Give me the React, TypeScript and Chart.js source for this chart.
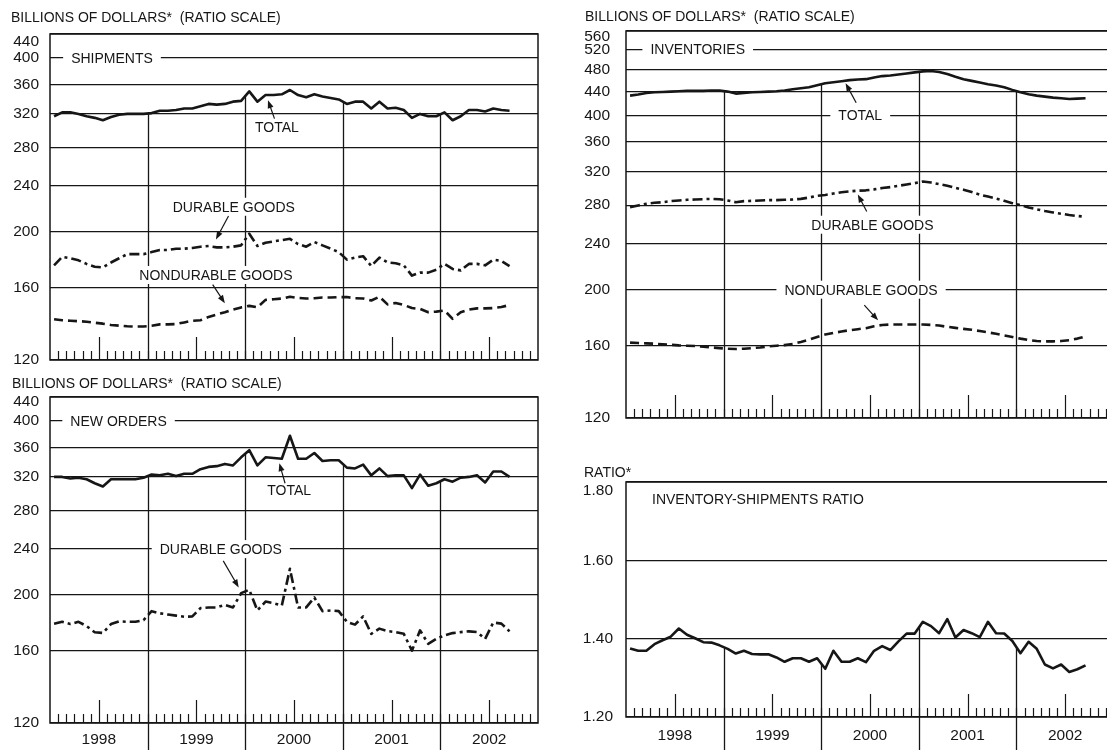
import React, { useEffect, useRef } from "react";
import { Chart, registerables } from "chart.js";

Chart.register(...registerables);

// ---------------- data ----------------
const YEAR_LABELS = ["1998", "1999", "2000", "2001", "2002"];
const YEAR_LABEL_MONTHS = [6, 18, 30, 42, 54]; // mid-year positions (months since Jan 1998)
const YEAR_BOUNDARY_MONTHS = [12, 24, 36, 48];
const X_MIN = 0;
const X_MAX = 60;

const DOLLAR_TICKS = [120, 160, 200, 240, 280, 320, 360, 400, 440];
const INVENTORY_TICKS = [120, 160, 200, 240, 280, 320, 360, 400, 440, 480, 520, 560];
const RATIO_TICKS = [1.2, 1.4, 1.6, 1.8];

// monthly, Jan 1998 - Sep 2002
const shipmentsTotal = [
  317, 322, 322, 320, 317, 315, 312, 316, 319, 320, 320, 320,
  321, 324, 324, 325, 327, 327, 330, 333, 332, 333, 336, 337,
  350, 336, 345, 345, 346, 352, 345, 342, 346, 343, 341, 339,
  333, 336, 336, 327, 336, 327, 328, 325, 315, 320, 317, 317,
  322, 312, 317, 325, 325, 323, 327, 325, 324,
];
const shipmentsDurable = [
  175, 181, 180, 178.5, 176, 174, 173.5, 177, 180, 183, 183, 183,
  184.5, 186, 186, 187, 187, 187.5, 188.5, 189, 188, 188, 188.5, 189.5,
  198.5, 189, 191.5, 192.5, 193.5, 194.5, 190.5, 188.5, 192, 189.5, 187, 184.5,
  179, 180.5, 181.5, 174.5, 180.5, 177, 176.5, 175, 168, 170, 170, 172,
  176, 172.5, 171.5, 176, 176, 175, 179, 178, 174.5,
];
const shipmentsNondurable = [
  141.2, 140.6, 140.3, 140.1, 139.8, 139.2, 138.7, 138, 137.6, 137.3, 137.1, 137.1,
  137.6, 138.3, 138.3, 138.5, 139.4, 140.3, 140.6, 142.5, 143.9, 145.2, 146.7, 148,
  148.9, 148, 152.5, 152.9, 153.3, 154.4, 153.7, 153.3, 153.5, 153.9, 153.9, 154.2,
  154.2, 153.5, 153.3, 152.1, 154.4, 149.8, 150.6, 149.4, 147.6, 147.1, 145.2, 145.5,
  146.2, 141.4, 145.2, 146.7, 147.4, 147.4, 147.6, 148.2, 149.4,
];

const inventoriesTotal = [
  433, 434.8, 437.7, 438.8, 439.4, 440, 440.6, 441.2, 441.2, 441.2, 441.8, 441.8,
  440, 436.5, 437.7, 438.8, 439.4, 440, 440.6, 441.8, 444.1, 445.9, 447.7, 451.3,
  454.9, 456.8, 458.6, 460.5, 461.7, 462.3, 465.4, 468, 469.2, 471.1, 473, 475,
  476.9, 477.5, 475.6, 471.8, 466.8, 462.3, 459.2, 456.1, 453, 450.7, 447.7, 443,
  438.8, 435.3, 433, 431.3, 429.6, 428.5, 427.3, 427.9, 428.5,
];
const inventoriesDurable = [
  277.8, 279.6, 281.5, 282.6, 283.3, 284.5, 285.2, 286, 286.3, 286.7, 287.1, 286.7,
  285.2, 283.3, 284.5, 284.8, 285.2, 285.6, 285.6, 286, 286.3, 287.1, 288.6, 290.5,
  291.6, 293.2, 294.7, 295.8, 296.6, 297, 298.1, 299.7, 300.8, 302.4, 304, 305.6,
  307.6, 306.4, 304.4, 302.4, 300, 297.7, 295, 292, 289.7, 287.5, 284.8, 282.2,
  280, 277.4, 275.3, 273.5, 272, 270.6, 269.2, 268.1, 267.4,
];
const inventoriesNondurable = [
  162, 161.7, 161.5, 161.3, 160.9, 160.6, 160.2, 160, 159.8, 159.4, 158.9, 158.5,
  158.1, 157.9, 158.1, 158.5, 158.9, 159.6, 160, 160.4, 161.1, 162.4, 163.9, 165.7,
  167.3, 168.4, 169.3, 170.2, 170.9, 171.6, 172.9, 173.8, 174.1, 174.1, 174.1, 174.1,
  174.1, 173.8, 173.4, 172.5, 171.8, 171.1, 170.5, 169.6, 168.7, 167.8, 166.7, 165.7,
  164.6, 163.7, 163, 162.8, 162.8, 163, 163.5, 164.6, 166.1,
];

const newOrdersTotal = [
  320, 320, 318, 319, 317, 312, 308, 317, 317, 317, 317, 319,
  323, 322, 324, 321, 324, 324, 330, 333, 334, 337, 335, 346,
  356, 335, 346, 345, 344, 377, 344, 344, 352, 341, 342, 342,
  332, 331, 336, 322, 331, 321, 322, 322, 306, 323, 309, 312,
  317, 314, 319, 320, 322, 313, 327, 327, 320,
];
const newOrdersDurable = [
  178.3, 179.6, 178, 179.6, 176.6, 172.3, 171.8, 178, 180, 179.6, 179.6, 180.8,
  187.4, 185.8, 184.9, 184.1, 183.3, 183.5, 189.7, 190.2, 190.2, 192.2, 190.2, 201.4,
  204.1, 187.9, 194.7, 193.4, 191.6, 221.9, 190.2, 190.2, 197.9, 187.4, 187.9, 187.4,
  179.6, 177.6, 183.5, 171.2, 174.8, 173.1, 172.4, 171.2, 160.1, 173.6, 164.5, 167.8,
  170.1, 171.7, 172.4, 172.9, 172.4, 167.8, 179.1, 178.3, 172.9,
];

const inventoryShipmentsRatio = [
  1.375, 1.369, 1.369, 1.386, 1.396, 1.405, 1.426, 1.41, 1.401, 1.391, 1.39, 1.383,
  1.374, 1.362, 1.369, 1.361, 1.36, 1.36, 1.352, 1.341, 1.35, 1.35, 1.341, 1.35,
  1.323, 1.369, 1.341, 1.341, 1.35, 1.34, 1.369, 1.381, 1.371, 1.393, 1.413, 1.413,
  1.443, 1.432, 1.414, 1.45, 1.403, 1.422, 1.414, 1.404, 1.443, 1.414, 1.413, 1.394,
  1.363, 1.392, 1.374, 1.334, 1.324, 1.334, 1.315, 1.322, 1.332,
];

// ---------------- styling ----------------
const FONT = "'Liberation Sans', Arial, Helvetica, sans-serif";
const INK = "#161616";
const TICK_FONT_SIZE = 15.5;
const SOLID: number[] = [];
const DASH_DOT = [10, 4, 3, 4];
const DASHED = [9, 5];

type Note = { text: string; x: number; y: number; align?: "left" | "center" };
type Arrow = { from: [number, number]; to: [number, number] };
type Series = { values: number[]; dash: number[] };
type PanelSpec = {
  box: { left: number; top: number; width: number; height: number };
  plot: { left: number; top: number; right: number; bottom: number };
  yType: "logarithmic" | "linear";
  yMin: number;
  yMax: number;
  yTicks: number[];
  yFormat: (v: number) => string;
  yPad: number;
  topLabelShift: number;
  showYears: boolean;
  xPad: number;
  series: Series[];
  notes: Note[];
  arrows: Arrow[];
};

const PANELS: PanelSpec[] = [
  {
    box: { left: 0, top: 0, width: 560, height: 370 },
    plot: { left: 50, top: 34, right: 538, bottom: 360 },
    yType: "logarithmic",
    yMin: 120,
    yMax: 440,
    yTicks: DOLLAR_TICKS,
    yFormat: (v) => String(v),
    yPad: 11,
    topLabelShift: 8,
    showYears: false,
    xPad: 7,
    series: [
      { values: shipmentsTotal, dash: SOLID },
      { values: shipmentsDurable, dash: DASH_DOT },
      { values: shipmentsNondurable, dash: DASHED },
    ],
    notes: [
      { text: "SHIPMENTS", x: 2.6, y: 400, align: "left" },
      { text: "TOTAL", x: 27.9, y: 303 },
      { text: "DURABLE GOODS", x: 22.6, y: 221 },
      { text: "NONDURABLE GOODS", x: 20.4, y: 168.4 },
    ],
    arrows: [
      { from: [27.6, 314], to: [26.8, 338] },
      { from: [21.95, 213], to: [20.4, 194] },
      { from: [20.0, 162], to: [21.5, 150.5] },
    ],
  },
  {
    box: { left: 560, top: 0, width: 560, height: 430 },
    plot: { left: 626, top: 31, right: 1114, bottom: 418 },
    yType: "logarithmic",
    yMin: 120,
    yMax: 560,
    yTicks: INVENTORY_TICKS,
    yFormat: (v) => String(v),
    yPad: 16,
    topLabelShift: 6,
    showYears: false,
    xPad: 7,
    series: [
      { values: inventoriesTotal, dash: SOLID },
      { values: inventoriesDurable, dash: DASH_DOT },
      { values: inventoriesNondurable, dash: DASHED },
    ],
    notes: [
      { text: "INVENTORIES", x: 3.0, y: 520, align: "left" },
      { text: "TOTAL", x: 28.8, y: 400 },
      { text: "DURABLE GOODS", x: 30.3, y: 259 },
      { text: "NONDURABLE GOODS", x: 28.9, y: 200 },
    ],
    arrows: [
      { from: [28.3, 421], to: [27.0, 455] },
      { from: [29.6, 273], to: [28.5, 292] },
      { from: [29.3, 188], to: [31.0, 177] },
    ],
  },
  {
    box: { left: 0, top: 370, width: 560, height: 380 },
    plot: { left: 50, top: 397, right: 538, bottom: 723 },
    yType: "logarithmic",
    yMin: 120,
    yMax: 440,
    yTicks: DOLLAR_TICKS,
    yFormat: (v) => String(v),
    yPad: 11,
    topLabelShift: 5,
    showYears: true,
    xPad: 7,
    series: [
      { values: newOrdersTotal, dash: SOLID },
      { values: newOrdersDurable, dash: DASH_DOT },
    ],
    notes: [
      { text: "NEW ORDERS", x: 2.5, y: 400, align: "left" },
      { text: "TOTAL", x: 29.4, y: 303 },
      { text: "DURABLE GOODS", x: 21.0, y: 240 },
    ],
    arrows: [
      { from: [28.9, 312], to: [28.2, 338] },
      { from: [21.3, 229], to: [23.2, 206] },
    ],
  },
  {
    box: { left: 560, top: 450, width: 560, height: 300 },
    plot: { left: 626, top: 482, right: 1114, bottom: 717 },
    yType: "linear",
    yMin: 1.2,
    yMax: 1.8,
    yTicks: RATIO_TICKS,
    yFormat: (v) => v.toFixed(2),
    yPad: 13,
    topLabelShift: 9,
    showYears: true,
    xPad: 9,
    series: [{ values: inventoryShipmentsRatio, dash: SOLID }],
    notes: [{ text: "INVENTORY-SHIPMENTS RATIO", x: 3.2, y: 1.757, align: "left" }],
    arrows: [],
  },
];

const TITLES = [
  { text: "BILLIONS OF DOLLARS*  (RATIO SCALE)", left: 11, top: 9 },
  { text: "BILLIONS OF DOLLARS*  (RATIO SCALE)", left: 585, top: 8 },
  { text: "BILLIONS OF DOLLARS*  (RATIO SCALE)", left: 12, top: 375 },
  { text: "RATIO*", left: 584, top: 464 },
];

// ---------------- drawing ----------------
function yOnLine(points: any[], px: number): number {
  for (let i = 0; i < points.length - 1; i++) {
    const p = points[i];
    const q = points[i + 1];
    if (px >= p.x && px <= q.x) {
      const t = (px - p.x) / (q.x - p.x || 1);
      return p.y + t * (q.y - p.y);
    }
  }
  return points.length ? points[0].y : 0;
}

function makeFramePlugin(spec: PanelSpec) {
  return {
    id: "frame",
    beforeDatasetsDraw(chart: any) {
      const { ctx, chartArea: a, scales } = chart;
      const xs = scales.x;
      const ys = scales.y;
      ctx.save();
      ctx.strokeStyle = INK;
      ctx.fillStyle = INK;

      // year boundary lines, from the top series down
      const topPoints = chart.getDatasetMeta(0).data;
      ctx.lineWidth = 1.3;
      for (const b of YEAR_BOUNDARY_MONTHS) {
        const px = Math.round(xs.getPixelForValue(b)) + 0.5;
        const yTop = yOnLine(topPoints, px);
        ctx.beginPath();
        ctx.moveTo(px, yTop);
        ctx.lineTo(px, spec.showYears ? chart.height : a.bottom);
        ctx.stroke();
      }

      // month ticks along the bottom edge
      ctx.lineWidth = 1.2;
      for (let m = X_MIN + 1; m < X_MAX; m++) {
        const px = Math.round(xs.getPixelForValue(m)) + 0.5;
        const h = m % 12 === 6 ? 23 : 9;
        ctx.beginPath();
        ctx.moveTo(px, a.bottom);
        ctx.lineTo(px, a.bottom - h);
        ctx.stroke();
      }

      // frame
      ctx.lineWidth = 1.5;
      ctx.strokeRect(a.left, a.top, a.right - a.left, a.bottom - a.top);

      // top-of-scale label sits just under the frame
      ctx.font = `${TICK_FONT_SIZE}px ${FONT}`;
      ctx.textAlign = "right";
      ctx.textBaseline = "middle";
      ctx.fillText(spec.yFormat(spec.yMax), a.left - spec.yPad, ys.getPixelForValue(spec.yMax) + spec.topLabelShift);

      // notes with white knock-out behind
      ctx.font = `14px ${FONT}`;
      ctx.textBaseline = "middle";
      ctx.textAlign = "left";
      for (const n of spec.notes) {
        const px = xs.getPixelForValue(n.x);
        const py = ys.getPixelForValue(n.y);
        const w = ctx.measureText(n.text).width;
        const x0 = n.align === "left" ? px : px - w / 2;
        ctx.fillStyle = "#ffffff";
        ctx.fillRect(x0 - 8, py - 9, w + 16, 18);
        ctx.fillStyle = INK;
        ctx.fillText(n.text, x0, py + 1);
      }
      ctx.restore();
    },
    afterDatasetsDraw(chart: any) {
      const { ctx, scales } = chart;
      const xs = scales.x;
      const ys = scales.y;
      ctx.save();
      ctx.strokeStyle = INK;
      ctx.fillStyle = INK;
      ctx.lineWidth = 1.2;
      for (const ar of spec.arrows) {
        const x1 = xs.getPixelForValue(ar.from[0]);
        const y1 = ys.getPixelForValue(ar.from[1]);
        const x2 = xs.getPixelForValue(ar.to[0]);
        const y2 = ys.getPixelForValue(ar.to[1]);
        const ang = Math.atan2(y2 - y1, x2 - x1);
        const head = 8;
        ctx.beginPath();
        ctx.moveTo(x1, y1);
        ctx.lineTo(x2 - Math.cos(ang) * head * 0.6, y2 - Math.sin(ang) * head * 0.6);
        ctx.stroke();
        ctx.beginPath();
        ctx.moveTo(x2, y2);
        ctx.lineTo(x2 - Math.cos(ang) * head + Math.sin(ang) * 3, y2 - Math.sin(ang) * head - Math.cos(ang) * 3);
        ctx.lineTo(x2 - Math.cos(ang) * head - Math.sin(ang) * 3, y2 - Math.sin(ang) * head + Math.cos(ang) * 3);
        ctx.closePath();
        ctx.fill();
      }
      ctx.restore();
    },
  };
}

function buildChart(canvas: HTMLCanvasElement, spec: PanelSpec): Chart {
  const { box, plot } = spec;
  const tickFont = { family: FONT, size: TICK_FONT_SIZE };
  const xScale: any = {
    type: "linear",
    min: X_MIN,
    max: X_MAX,
    display: spec.showYears,
    grid: { display: false, drawTicks: false },
    border: { display: false },
    afterBuildTicks: (s: any) => {
      s.ticks = YEAR_LABEL_MONTHS.map((v) => ({ value: v }));
    },
    ticks: {
      autoSkip: false,
      maxRotation: 0,
      padding: spec.xPad,
      color: INK,
      font: tickFont,
      callback: (_v: any, i: number) => YEAR_LABELS[i] ?? "",
    },
  };
  if (spec.showYears) {
    xScale.afterFit = (s: any) => {
      s.height = box.top + box.height - plot.bottom;
      s.paddingLeft = 0;
      s.paddingRight = 0;
    };
  }
  return new Chart(canvas, {
    type: "line",
    data: {
      datasets: spec.series.map((s) => ({
        data: s.values.map((v, i) => ({ x: i + 0.5, y: v })),
        borderColor: INK,
        borderWidth: 2.6,
        borderDash: s.dash,
        borderCapStyle: "butt" as const,
        borderJoinStyle: "round" as const,
        pointRadius: 0,
        tension: 0,
        fill: false,
      })),
    },
    options: {
      animation: false,
      responsive: false,
      maintainAspectRatio: false,
      events: [],
      layout: {
        padding: {
          left: 0,
          top: plot.top - box.top,
          right: box.left + box.width - plot.right,
          bottom: spec.showYears ? 0 : box.top + box.height - plot.bottom,
        },
      },
      plugins: {
        legend: { display: false },
        tooltip: { enabled: false },
        title: { display: false },
      },
      scales: {
        x: xScale,
        y: {
          type: spec.yType,
          min: spec.yMin,
          max: spec.yMax,
          bounds: "data",
          afterBuildTicks: (s: any) => {
            s.ticks = spec.yTicks.map((v) => ({ value: v }));
          },
          afterFit: (s: any) => {
            s.width = plot.left - box.left;
            s.paddingTop = 0;
            s.paddingBottom = 0;
          },
          grid: { color: INK, lineWidth: 1.2, drawTicks: false },
          border: { display: false },
          ticks: {
            autoSkip: false,
            padding: spec.yPad,
            color: INK,
            font: tickFont,
            callback: (v: any) => (Number(v) === spec.yMax ? "" : spec.yFormat(Number(v))),
          },
        } as any,
      },
    },
    plugins: [makeFramePlugin(spec)],
  } as any);
}

function Panel({ spec }: { spec: PanelSpec }) {
  const ref = useRef<HTMLCanvasElement>(null);
  useEffect(() => {
    if (!ref.current) return;
    const chart = buildChart(ref.current, spec);
    return () => chart.destroy();
  }, [spec]);
  const { box } = spec;
  return (
    <canvas
      ref={ref}
      width={box.width}
      height={box.height}
      style={{ position: "absolute", left: box.left, top: box.top, width: box.width, height: box.height }}
    />
  );
}

export default function App() {
  return (
    <div
      style={{
        position: "fixed",
        left: 0,
        top: 0,
        width: 1107,
        height: 750,
        overflow: "hidden",
        background: "#ffffff",
      }}
    >
      {PANELS.map((p, i) => (
        <Panel key={i} spec={p} />
      ))}
      {TITLES.map((t, i) => (
        <div
          key={"t" + i}
          style={{
            position: "absolute",
            left: t.left,
            top: t.top,
            font: `14px ${FONT}`,
            lineHeight: "16px",
            color: INK,
            whiteSpace: "pre",
          }}
        >
          {t.text}
        </div>
      ))}
    </div>
  );
}
